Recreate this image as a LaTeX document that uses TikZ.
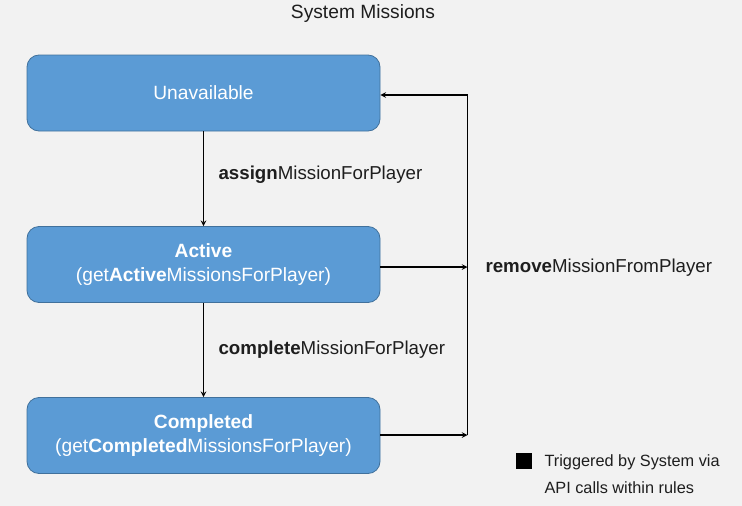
\documentclass[tikz,border=0pt]{standalone}
\usepackage{fontspec}
\setmainfont{Liberation Sans}
\definecolor{bgcol}{RGB}{242,242,242}
\definecolor{boxfill}{RGB}{91,155,213}
\definecolor{boxline}{RGB}{65,113,156}
\definecolor{txtcol}{RGB}{30,30,30}
\begin{document}
\begin{tikzpicture}[x=1pt, y=-1pt, >=stealth,
    state/.style={draw=boxline, fill=boxfill, line width=0.8pt, rounded corners=12pt,
        minimum width=353pt, minimum height=76pt, text=white, align=center,
        font=\fontsize{19.2}{24}\selectfont},
    lbl/.style={anchor=west, text=txtcol, font=\fontsize{18.7}{20}\selectfont},
    link/.style={->, line width=1.5pt}]
    \fill[bgcol] (0,0) rectangle (742,506);
    \useasboundingbox (0,0) rectangle (742,506);

    \node[text=txtcol, font=\fontsize{19.2}{20}\selectfont] (title) at (363,14) {System Missions};

    \node[state] (unavail) at (203.5,93) {Unavailable};
    \node[state] (active) at (203.5,264.5) {\textbf{Active}\\(get\textbf{Active}MissionsForPlayer)};
    \node[state] (completed) at (203.5,435.5) {\textbf{Completed}\\(get\textbf{Completed}MissionsForPlayer)};

    \coordinate (railtop) at (467.5,95);
    \coordinate (railbot) at (467.5,435);

    \draw[link] (unavail) -- (active) node[lbl, midway, xshift=11pt, yshift=4pt] {\textbf{assign}MissionForPlayer};
    \draw[link] (active) -- (completed) node[lbl, midway, xshift=11pt] {\textbf{complete}MissionForPlayer};

    \draw[line width=1.5pt] (railtop) -- (railbot);
    \draw[link] (railtop) -- (railtop -| unavail.east);
    \draw[link] (active.east |- 0,267) -- (railtop |- 0,267);
    \draw[link] (completed.east |- railbot) -- (railbot);
    \node[lbl] (remove) at (482,268) {\textbf{remove}MissionFromPlayer};

    % legend
    \node[fill=black, minimum size=16pt, inner sep=0pt] (key) at (524,461) {};
    \node[lbl, font=\fontsize{16.3}{27.5}\selectfont, align=left, anchor=north west] (keytext) at (541,451)
        {Triggered by System via\\API calls within rules};
\end{tikzpicture}
\end{document}
